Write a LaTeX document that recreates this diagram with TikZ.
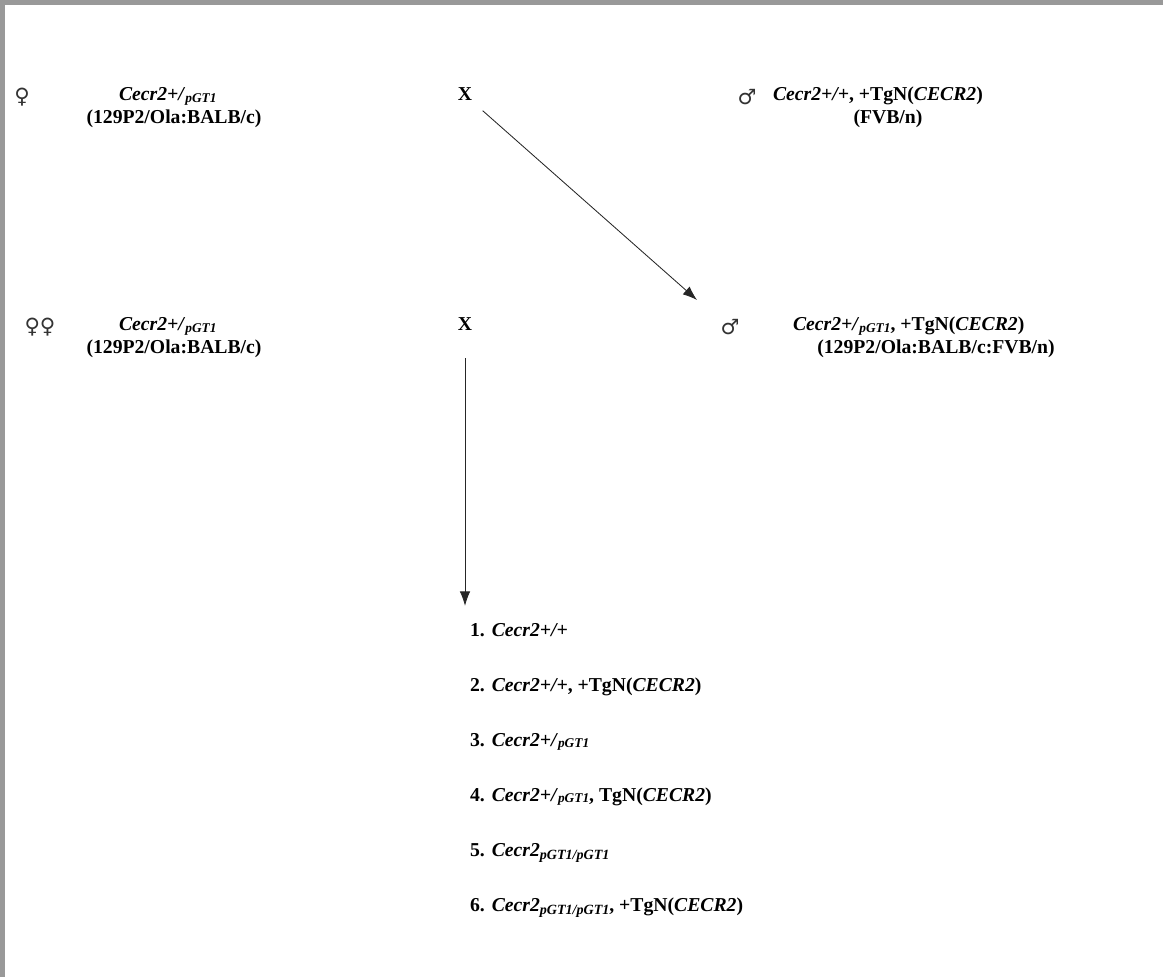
\documentclass[tikz,border=0pt]{standalone}
\usepackage{fontspec}
\setmainfont{Liberation Serif}
\newfontfamily\symfont{DejaVu Sans}
\usetikzlibrary{arrows.meta}

\newcommand{\gti}{\raisebox{-0.2ex}{\fontsize{9.5}{9.5}\selectfont\itshape pGT1}}
\newcommand{\gtii}{\raisebox{-0.35ex}{\fontsize{10}{10}\selectfont\itshape pGT1/pGT1}}

\begin{document}
\begin{tikzpicture}[
	font=\fontsize{14}{16}\selectfont\bfseries,
	x=0.025cm, y=-0.025cm,
	geno/.style={anchor=base west, inner sep=2pt},
	strain/.style={anchor=base, inner sep=2pt},
	sex/.style={font=\fontsize{15}{15}\selectfont\symfont, text=black!80, inner sep=1pt},
	cross/.style={anchor=base, inner sep=2pt},
	offspring/.style={anchor=base west, inner sep=2pt},
	arr/.style={-{Latex[length=3.6mm, width=2.6mm]}, line width=0.6pt, black!85},
]
\useasboundingbox (0,0) rectangle (1163,977);

% --- Rahmen ---
\fill[black!40] (0,0) rectangle (1163,5);
\fill[black!40] (0,0) rectangle (5,977);

% --- P-Generation ---
\node[sex] (f1sym) at (22,97) {♀};
\node[geno] (f1geno) at (116,101) {\textit{Cecr2+/}\gti};
\node[strain] (f1strain) at (174,124) {(129P2/Ola:BALB/c)};
\node[cross] (x1) at (465,101) {X};
\node[sex] (m1sym) at (747,97) {♂};
\node[geno] (m1geno) at (770,101) {\textit{Cecr2+/+}, +TgN(\textit{CECR2})};
\node[strain] (m1strain) at (888,124) {(FVB/n)};

% --- F1 x Weibchen ---
\node[sex] (f2sym) at (40,327) {♀♀};
\node[geno] (f2geno) at (116,331) {\textit{Cecr2+/}\gti};
\node[strain] (f2strain) at (174,354) {(129P2/Ola:BALB/c)};
\node[cross] (x2) at (465,331) {X};
\node[sex] (m2sym) at (730,327) {♂};
\node[geno] (m2geno) at (790,331) {\textit{Cecr2+/}\gti, +TgN(\textit{CECR2})};
\node[strain] (m2strain) at (936,354) {(129P2/Ola:BALB/c:FVB/n)};

% --- Nachkommen ---
\foreach \i/\txt in {
	1/{\textit{Cecr2+/+}},
	2/{\textit{Cecr2+/+}, +TgN(\textit{CECR2})},
	3/{\textit{Cecr2+/}\gti},
	4/{\textit{Cecr2+/}\gti, TgN(\textit{CECR2})},
	5/{\textit{Cecr2}\gtii},
	6/{\textit{Cecr2}\gtii, +TgN(\textit{CECR2})}}
	\node[offspring] (o\i) at (467,{581+55*\i}) {\i.\hspace{0.35em}\txt};

% --- Pfeile ---
\coordinate (dend) at (697,300);
\draw[arr, shorten <=0.25cm] (x1.south east) -- (dend);
\draw[arr, shorten <=0.6cm, shorten >=0.35cm] (x2.south) -- (x2.south |- o1.north);

\end{tikzpicture}
\end{document}
